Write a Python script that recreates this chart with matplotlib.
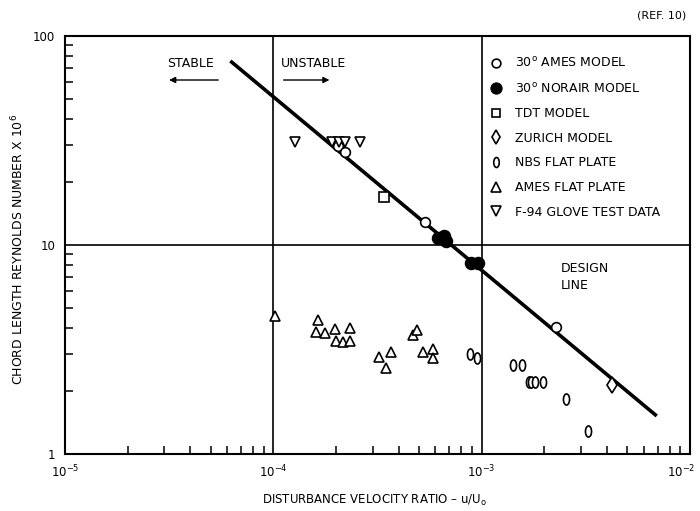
import matplotlib
matplotlib.use("Agg")
import matplotlib.pyplot as plt
from matplotlib.path import Path
import matplotlib.transforms as mtransforms
from matplotlib.ticker import LogLocator, FixedLocator, FixedFormatter, NullFormatter

# ---------------- data ----------------
ames_model_x = [2.05e-4, 2.21e-4, 5.35e-4, 2.27e-3]
ames_model_y = [29.8, 27.9, 12.9, 4.07]

norair_x = [6.14e-4, 6.61e-4, 6.73e-4, 8.87e-4, 9.55e-4]
norair_y = [10.8, 11.0, 10.4, 8.18, 8.18]

tdt_x = [3.38e-4]
tdt_y = [17.0]

zurich_x = [4.21e-3]
zurich_y = [2.14]

nbs_x = [8.77e-4, 9.51e-4, 1.42e-3, 1.57e-3, 1.68e-3, 1.73e-3, 1.81e-3, 1.96e-3, 2.53e-3, 3.23e-3]
nbs_y = [3.01, 2.88, 2.66, 2.66, 2.21, 2.21, 2.21, 2.22, 1.83, 1.29]

ames_fp_x = [1.02e-4, 1.64e-4, 1.61e-4, 1.77e-4, 1.97e-4, 2.01e-4, 2.17e-4, 2.33e-4, 2.33e-4,
             3.22e-4, 3.69e-4, 3.47e-4, 4.66e-4, 4.92e-4, 5.20e-4, 5.87e-4, 5.87e-4]
ames_fp_y = [4.59, 4.35, 3.83, 3.78, 3.97, 3.48, 3.45, 3.48, 4.00,
             2.91, 3.07, 2.58, 3.72, 3.93, 3.09, 3.18, 2.88]

f94_x = [1.27e-4, 1.92e-4, 2.07e-4, 2.21e-4, 2.60e-4]
f94_y = [31.0, 31.0, 31.0, 31.0, 31.0]

design_x = [6.22e-5, 6.92e-3]
design_y = [75.7, 1.52]

legend_labels = ["30$^{\\mathrm{o}}$ AMES MODEL", "30$^{\\mathrm{o}}$ NORAIR MODEL", "TDT MODEL",
                 "ZURICH MODEL", "NBS FLAT PLATE", "AMES FLAT PLATE", "F-94 GLOVE TEST DATA"]

x_ticks = [1e-5, 1e-4, 1e-3, 1e-2]
y_ticks = [1, 10, 100]
y_ticklabels = ["1", "10", "100"]

# ---------------- figure ----------------
plt.rcParams['font.family'] = ['DejaVu Sans']
plt.rcParams['mathtext.fontset'] = 'dejavusans'

fig = plt.figure(figsize=(7.0, 5.11), dpi=100)
ax = fig.add_axes([65 / 700, 57 / 511, 625 / 700, 418.3 / 511])
ax.set_xscale('log')
ax.set_yscale('log')
ax.set_xlim(1e-5, 1e-2)
ax.set_ylim(1, 100)

for s in ax.spines.values():
    s.set_linewidth(1.5)

# reference lines
ax.axvline(1e-4, color='black', lw=1.2, zorder=1)
ax.axvline(1e-3, color='black', lw=1.2, zorder=1)
ax.axhline(10, color='black', lw=1.2, zorder=1)

# design line
ax.plot(design_x, design_y, color='black', lw=2.6, solid_capstyle='butt', zorder=2)

ell = Path.unit_circle().transformed(mtransforms.Affine2D().scale(0.55, 1.0))

mew = 1.2
h1, = ax.plot(ames_model_x, ames_model_y, 'o', ms=7, mfc='white', mec='black', mew=mew, ls='none', zorder=4)
h2, = ax.plot(norair_x, norair_y, 'o', ms=8.5, mfc='black', mec='black', mew=mew, ls='none', zorder=4)
h3, = ax.plot(tdt_x, tdt_y, 's', ms=7, mfc='white', mec='black', mew=mew, ls='none', zorder=4)
h4, = ax.plot(zurich_x, zurich_y, 'd', ms=8, mfc='white', mec='black', mew=mew, ls='none', zorder=4)
h5, = ax.plot(nbs_x, nbs_y, marker=ell, ms=8, mfc='white', mec='black', mew=mew, ls='none', zorder=4)
h6, = ax.plot(ames_fp_x, ames_fp_y, '^', ms=7.5, mfc='white', mec='black', mew=mew, ls='none', zorder=4)
h7, = ax.plot(f94_x, f94_y, 'v', ms=7.5, mfc='white', mec='black', mew=mew, ls='none', zorder=4)

leg = ax.legend([h1, h2, h3, h4, h5, h6, h7], legend_labels,
                loc='upper left', bbox_to_anchor=(490 / 700, 1 - 56 / 511),
                bbox_transform=fig.transFigure, frameon=False, borderpad=0,
                borderaxespad=0, handlelength=1.0, handletextpad=1.0,
                labelspacing=0.93, fontsize=9, numpoints=1, markerscale=0.9)

# ticks
ax.xaxis.set_major_locator(FixedLocator(x_ticks))
ax.xaxis.set_minor_locator(LogLocator(base=10, subs=[2, 3, 4, 5, 6, 7, 8, 9]))
ax.xaxis.set_minor_formatter(NullFormatter())
ax.yaxis.set_major_locator(FixedLocator(y_ticks))
ax.yaxis.set_major_formatter(FixedFormatter(y_ticklabels))
ax.yaxis.set_minor_locator(LogLocator(base=10, subs=[2, 3, 4, 5, 6, 7, 8, 9]))
ax.yaxis.set_minor_formatter(NullFormatter())

ax.tick_params(axis='both', which='both', direction='in', top=False, right=False)
ax.tick_params(axis='both', which='minor', length=5.5, width=1.1)
ax.tick_params(axis='both', which='major', length=0)
ax.tick_params(axis='x', which='major', labelsize=8.5, pad=7)
ax.tick_params(axis='y', which='major', labelsize=8.5, pad=7)

# labels
ax.set_xlabel("DISTURBANCE VELOCITY RATIO \u2013 u/U$_{\\mathrm{o}}$", fontsize=8.5)
ax.xaxis.set_label_coords(0.496, -0.093)
ax.set_ylabel("CHORD LENGTH REYNOLDS NUMBER X 10$^{6}$", fontsize=9)
ax.yaxis.set_label_coords(-0.062, 0.49)

# annotations
ax.text(4.0e-5, 74, "STABLE", fontsize=9, ha='center', va='center')
ax.text(1.56e-4, 74, "UNSTABLE", fontsize=9, ha='center', va='center')
ax.annotate("", xy=(3.16e-5, 61.4), xytext=(5.44e-5, 61.4),
            arrowprops=dict(arrowstyle='-|>', color='black', lw=1.0, mutation_scale=9,
                            shrinkA=0, shrinkB=0))
ax.annotate("", xy=(1.86e-4, 61.4), xytext=(1.12e-4, 61.4),
            arrowprops=dict(arrowstyle='-|>', color='black', lw=1.0, mutation_scale=9,
                            shrinkA=0, shrinkB=0))
ax.text(2.39e-3, 7.0, "DESIGN\nLINE", fontsize=9, ha='left', va='center', linespacing=1.35)

fig.text(686 / 700, 1 - 15 / 511, "(REF. 10)", fontsize=8, ha='right', va='center')

# keep the last x tick label inside the picture, as in the reference
fig.canvas.draw()
last = ax.get_xticklabels()[-1]
last.set_horizontalalignment('right')
last.set_transform(last.get_transform() + mtransforms.ScaledTranslation(5 / 100, 0, fig.dpi_scale_trans))

fig.savefig("out.png", dpi=100)
